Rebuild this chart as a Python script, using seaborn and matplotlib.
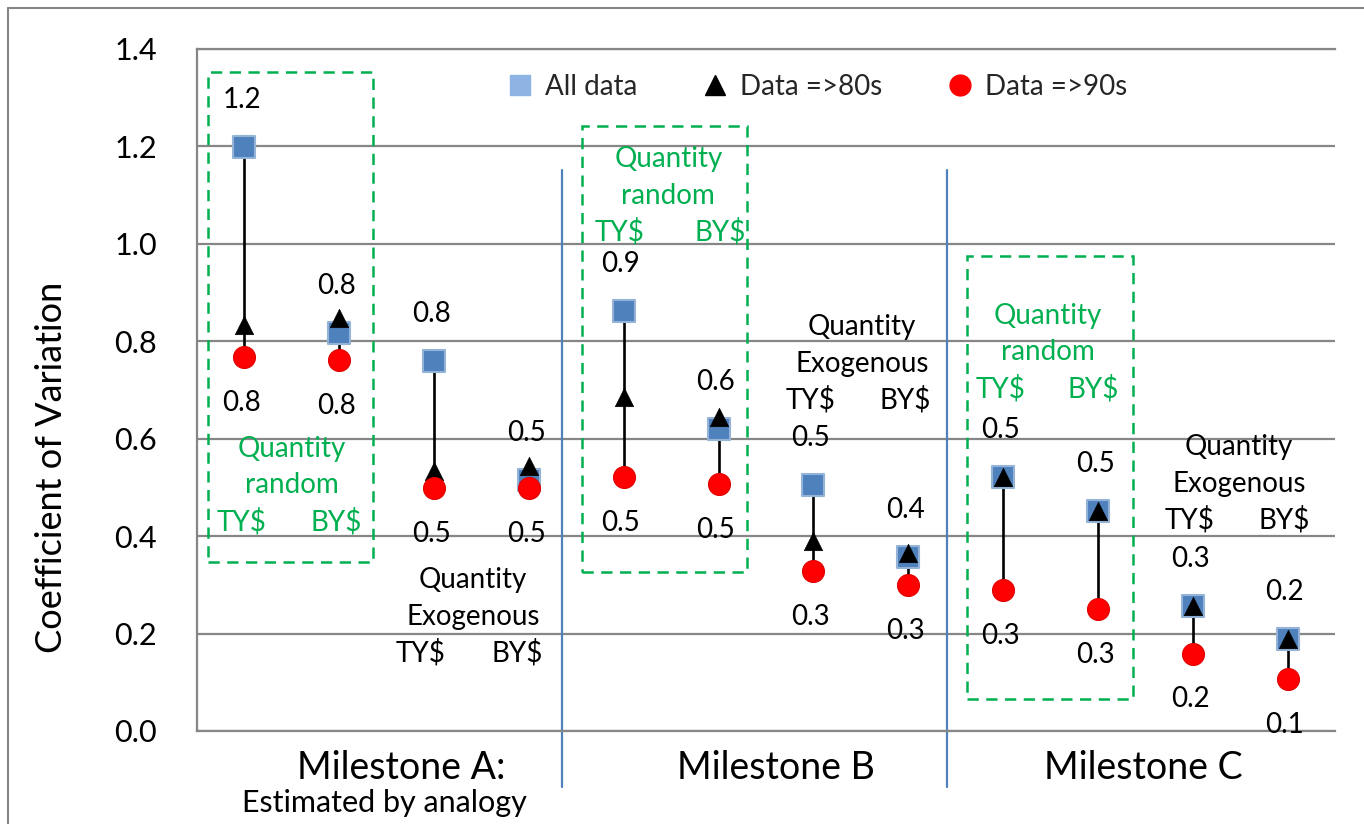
import numpy as np
import pandas as pd
import matplotlib
matplotlib.use("Agg")
import matplotlib.pyplot as plt
from matplotlib.lines import Line2D
from matplotlib.patches import Rectangle
import seaborn as sns

# ---------------- data ----------------
categories = ["A TY$ random", "A BY$ random", "A TY$ exogenous", "A BY$ exogenous",
              "B TY$ random", "B BY$ random", "B TY$ exogenous", "B BY$ exogenous",
              "C TY$ random", "C BY$ random", "C TY$ exogenous", "C BY$ exogenous"]
all_data = [1.199, 0.817, 0.760, 0.515, 0.862, 0.620, 0.505, 0.357, 0.521, 0.452, 0.256, 0.188]
data_80s = [0.833, 0.848, 0.534, 0.545, 0.685, 0.645, 0.390, 0.365, 0.521, 0.452, 0.256, 0.188]
data_90s = [0.768, 0.762, 0.499, 0.499, 0.522, 0.507, 0.328, 0.300, 0.289, 0.251, 0.159, 0.106]
series_names = ["All data", "Data =>80s", "Data =>90s"]
y_ticks = [0.0, 0.2, 0.4, 0.6, 0.8, 1.0, 1.2, 1.4]
milestones = ["Milestone A:", "Milestone B", "Milestone C"]
milestone_sub = "Estimated by analogy"
random_lines = ["Quantity", "random"]
exog_lines = ["Quantity", "Exogenous"]
currency = ["TY$", "BY$"]
y_label = "Coefficient of Variation"

# ---------------- styling ----------------
sns.set_theme(style="white")
plt.rcParams["font.family"] = ["Lato", "DejaVu Sans"]

GRID = "#868686"
GREEN = "#00B050"
BLUE_SEP = "#4F81BD"

fig = plt.figure(figsize=(13.64, 8.24), dpi=100)
ax = fig.add_axes([197 / 1364, 1 - 731 / 824, (1335 - 197) / 1364, (731 - 49) / 824])

pos = np.arange(len(categories))
df = pd.DataFrame({
    "pos": np.tile(pos, 3),
    "value": all_data + data_80s + data_90s,
    "series": np.repeat(series_names, len(categories)),
})

# connecting lines (max to min per category)
vals = np.array([all_data, data_80s, data_90s])
ax.vlines(pos, vals.min(axis=0), vals.max(axis=0), color="black", lw=1.9, zorder=3)

styles = {
    "All data": dict(marker="s", s=250, color="#4F81BD", edgecolor="#95B3D7", linewidth=1.5),
    "Data =>80s": dict(marker="^", s=175, color="black", edgecolor="black", linewidth=0.5),
    "Data =>90s": dict(marker="o", s=250, color="#FF0000", edgecolor="#E00000", linewidth=0.8),
}
for z, name in enumerate(series_names):
    sub = df[df["series"] == name]
    sns.scatterplot(data=sub, x="pos", y="value", ax=ax, zorder=4 + z, legend=False,
                    **styles[name])

# value labels: All data above, Data =>90s below
for x, top, bot in zip(pos, all_data, data_90s):
    ax.annotate(f"{top:.1f}", (x, top), xytext=(-2, 34), textcoords="offset points",
                ha="center", va="center", fontsize=20, color="black", zorder=8)
    ax.annotate(f"{bot:.1f}", (x, bot), xytext=(-2, -33), textcoords="offset points",
                ha="center", va="center", fontsize=20, color="black", zorder=8)

# axes
ax.set_xlim(-0.5, len(categories) - 0.5)
ax.set_ylim(0, 1.4)
ax.set_yticks(y_ticks)
ax.set_yticklabels([f"{t:.1f}" for t in y_ticks], fontsize=22, color="black")
ax.set_xticks([])
ax.tick_params(axis="y", length=0, pad=29)
ax.yaxis.grid(True, color=GRID, lw=1.6)
ax.set_axisbelow(True)
for side in ["left", "bottom", "top"]:
    ax.spines[side].set_visible(True)
    ax.spines[side].set_color(GRID)
    ax.spines[side].set_linewidth(1.6)
ax.spines["right"].set_visible(False)
ax.set_xlabel("")
ax.set_ylabel(y_label, fontsize=26, color="black")
ax.yaxis.set_label_coords(-0.113, 0.387)

# separators between milestones
for xs in [3.35, 7.41]:
    ax.plot([xs, xs], [1.152, -0.115], color=BLUE_SEP, lw=1.6, clip_on=False, zorder=2)

# dashed green boxes
for (x0, x1, y0, y1) in [(-0.387, 1.357, 0.346, 1.353),
                         (3.558, 5.302, 0.326, 1.241),
                         (7.622, 9.373, 0.066, 0.976)]:
    ax.add_patch(Rectangle((x0, y0), x1 - x0, y1 - y0, fill=False, edgecolor=GREEN,
                           lw=1.8, linestyle=(0, (4.5, 3)), zorder=2, clip_on=False))


def text_block(lines, xc, xl, xr, ytop, color):
    dy = 0.075
    ax.text(xc, ytop, lines[0], ha="center", va="center", fontsize=20, color=color, zorder=9)
    ax.text(xc, ytop - dy, lines[1], ha="center", va="center", fontsize=20, color=color, zorder=9)
    ax.text(xl, ytop - 2 * dy, currency[0], ha="center", va="center", fontsize=20, color=color, zorder=9)
    ax.text(xr, ytop - 2 * dy, currency[1], ha="center", va="center", fontsize=20, color=color, zorder=9)


text_block(random_lines, 0.50, -0.03, 0.97, 0.579, GREEN)
text_block(random_lines, 4.47, 3.96, 5.02, 1.174, GREEN)
text_block(random_lines, 8.47, 7.97, 8.95, 0.852, GREEN)
text_block(exog_lines, 2.41, 1.86, 2.88, 0.310, "black")
text_block(exog_lines, 6.51, 5.97, 6.97, 0.829, "black")
text_block(exog_lines, 10.49, 9.97, 10.96, 0.583, "black")

# milestone labels
for xm, name in zip([1.65, 5.61, 9.48], milestones):
    ax.text(xm, -0.076, name, ha="center", va="center", fontsize=27, color="black",
            clip_on=False)
ax.text(1.48, -0.148, milestone_sub, ha="center", va="center", fontsize=22, color="black",
        clip_on=False)

# legend
handles = [
    Line2D([], [], marker="s", linestyle="none", markersize=14, markerfacecolor="#8EB4E3",
           markeredgecolor="#8EB4E3"),
    Line2D([], [], marker="^", linestyle="none", markersize=14, markerfacecolor="black",
           markeredgecolor="black"),
    Line2D([], [], marker="o", linestyle="none", markersize=15, markerfacecolor="#FF0000",
           markeredgecolor="#FF0000"),
]
leg = ax.legend(handles, series_names, loc="center", bbox_to_anchor=(0.546, 0.944), ncol=3,
                frameon=False, fontsize=20, handlelength=0.8, handletextpad=0.5,
                columnspacing=2.4)

# outer chart border (top and left visible)
fig.add_artist(Line2D([8 / 1364, 8 / 1364], [0, 1 - 8 / 824], transform=fig.transFigure,
                      color=GRID, lw=1.5))
fig.add_artist(Line2D([8 / 1364, 1], [1 - 8 / 824, 1 - 8 / 824], transform=fig.transFigure,
                      color=GRID, lw=1.5))

fig.savefig("out.png", dpi=100, facecolor="white")
